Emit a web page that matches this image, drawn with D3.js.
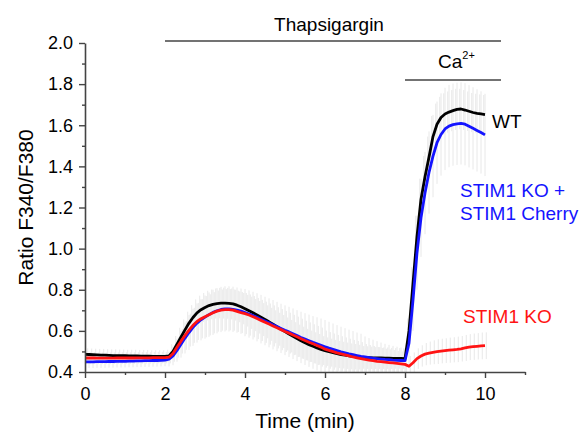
<!DOCTYPE html>
<html>
<head>
<meta charset="utf-8">
<script src="https://cdn.jsdelivr.net/npm/d3@7"></script>
<style>
  body { margin: 0; background: #fff; }
  text { font-family: "Liberation Sans", Arial, sans-serif; }
</style>
</head>
<body>
<svg width="586" height="438"></svg>
<script>
var svg = d3.select("svg"),
    width = +svg.attr("width"),
    height = +svg.attr("height");

/*================================ data ================================*/
// sampling grid, minutes
var times = d3.range(101).map(i => i / 10);

// WT (black)
var wtMean = [
  0.486,0.485,0.484,0.483,0.482,0.482,0.481,0.480,0.480,0.479,
  0.479,0.478,0.478,0.478,0.477,0.477,0.477,0.476,0.476,0.476,
  0.476,0.478,0.500,0.535,0.570,0.605,0.638,0.665,0.688,0.703,
  0.714,0.723,0.729,0.733,0.735,0.735,0.734,0.731,0.725,0.717,
  0.708,0.698,0.688,0.677,0.666,0.655,0.644,0.632,0.620,0.608,
  0.597,0.585,0.574,0.563,0.552,0.542,0.533,0.525,0.517,0.510,
  0.504,0.499,0.494,0.489,0.485,0.482,0.479,0.476,0.474,0.472,
  0.471,0.470,0.469,0.468,0.468,0.467,0.467,0.466,0.466,0.466,
  0.465,0.600,0.830,1.060,1.240,1.350,1.445,1.545,1.605,1.638,
  1.655,1.664,1.671,1.677,1.679,1.674,1.668,1.662,1.658,1.655,
  1.652];
var wtSd = [
  0.030,0.030,0.030,0.030,0.030,0.030,0.030,0.030,0.030,0.030,
  0.030,0.030,0.030,0.030,0.030,0.030,0.030,0.030,0.030,0.030,
  0.030,0.030,0.035,0.040,0.045,0.050,0.055,0.060,0.065,0.068,
  0.070,0.072,0.072,0.073,0.074,0.075,0.075,0.075,0.075,0.075,
  0.076,0.077,0.078,0.078,0.079,0.080,0.080,0.080,0.080,0.080,
  0.080,0.080,0.079,0.079,0.078,0.078,0.077,0.076,0.076,0.075,
  0.070,0.069,0.068,0.067,0.066,0.065,0.064,0.063,0.062,0.060,
  0.055,0.055,0.054,0.053,0.053,0.052,0.052,0.051,0.050,0.050,
  0.050,0.060,0.080,0.100,0.100,0.100,0.100,0.100,0.100,0.100,
  0.100,0.100,0.100,0.100,0.098,0.097,0.096,0.095,0.095,0.095,
  0.095];

// STIM1 KO + STIM1 Cherry (blue)
var rescueMean = [
  0.449,0.449,0.449,0.450,0.450,0.450,0.451,0.451,0.452,0.452,
  0.452,0.453,0.453,0.454,0.454,0.455,0.455,0.456,0.456,0.457,
  0.458,0.462,0.478,0.505,0.535,0.565,0.592,0.617,0.638,0.654,
  0.667,0.679,0.690,0.698,0.704,0.707,0.707,0.705,0.701,0.696,
  0.689,0.682,0.674,0.666,0.657,0.648,0.639,0.630,0.621,0.612,
  0.603,0.595,0.586,0.577,0.568,0.560,0.552,0.544,0.537,0.530,
  0.523,0.516,0.510,0.504,0.498,0.493,0.488,0.484,0.480,0.476,
  0.473,0.470,0.467,0.465,0.463,0.461,0.460,0.458,0.457,0.456,
  0.455,0.540,0.750,0.980,1.150,1.270,1.370,1.450,1.515,1.555,
  1.582,1.596,1.603,1.607,1.609,1.605,1.595,1.585,1.575,1.565,
  1.553];
var rescueSd = [
  0.030,0.030,0.030,0.030,0.030,0.030,0.030,0.030,0.030,0.030,
  0.030,0.030,0.030,0.030,0.030,0.030,0.030,0.030,0.030,0.030,
  0.030,0.035,0.045,0.055,0.065,0.075,0.085,0.090,0.095,0.100,
  0.105,0.108,0.110,0.110,0.110,0.110,0.110,0.110,0.110,0.110,
  0.115,0.115,0.116,0.117,0.118,0.118,0.119,0.120,0.120,0.120,
  0.121,0.122,0.123,0.124,0.125,0.126,0.127,0.128,0.129,0.130,
  0.130,0.128,0.126,0.124,0.122,0.120,0.118,0.115,0.112,0.110,
  0.100,0.095,0.090,0.085,0.080,0.076,0.072,0.069,0.066,0.063,
  0.060,0.100,0.150,0.180,0.190,0.200,0.200,0.200,0.200,0.200,
  0.200,0.200,0.200,0.200,0.200,0.200,0.200,0.200,0.200,0.200,
  0.200];

// STIM1 KO (red)
var koMean = [
  0.468,0.468,0.468,0.467,0.467,0.467,0.467,0.467,0.468,0.468,
  0.468,0.468,0.468,0.469,0.469,0.469,0.469,0.470,0.470,0.470,
  0.470,0.472,0.490,0.520,0.550,0.578,0.604,0.627,0.646,0.659,
  0.669,0.678,0.688,0.696,0.701,0.703,0.703,0.701,0.695,0.689,
  0.684,0.677,0.669,0.660,0.651,0.642,0.633,0.624,0.615,0.606,
  0.597,0.589,0.580,0.571,0.562,0.553,0.545,0.537,0.529,0.521,
  0.511,0.505,0.499,0.493,0.488,0.483,0.478,0.473,0.469,0.465,
  0.461,0.458,0.455,0.452,0.450,0.448,0.446,0.444,0.442,0.440,
  0.437,0.428,0.445,0.465,0.478,0.487,0.492,0.496,0.499,0.502,
  0.504,0.506,0.508,0.510,0.513,0.517,0.521,0.523,0.525,0.527,
  0.528];
var koSd = [
  0.028,0.028,0.028,0.028,0.028,0.028,0.028,0.028,0.028,0.028,
  0.028,0.028,0.028,0.028,0.028,0.028,0.028,0.028,0.028,0.028,
  0.028,0.030,0.040,0.050,0.060,0.070,0.080,0.085,0.090,0.095,
  0.100,0.100,0.100,0.100,0.100,0.100,0.100,0.100,0.100,0.100,
  0.100,0.100,0.100,0.100,0.100,0.100,0.100,0.100,0.100,0.100,
  0.100,0.099,0.098,0.098,0.097,0.096,0.096,0.095,0.095,0.095,
  0.090,0.089,0.088,0.087,0.086,0.085,0.084,0.083,0.082,0.080,
  0.075,0.073,0.071,0.069,0.067,0.065,0.064,0.063,0.061,0.060,
  0.055,0.050,0.050,0.050,0.052,0.054,0.056,0.058,0.060,0.060,
  0.060,0.061,0.061,0.062,0.062,0.063,0.063,0.064,0.064,0.065,
  0.065];

var seriesNames = ["WT", "STIM1 KO + STIM1 Cherry", "STIM1 KO"];
var seriesColors = ["#000000", "#1414ff", "#ff1414"];

// x ticks, y ticks
var xMajor = [0, 2, 4, 6, 8, 10], xMinor = [1, 3, 5, 7, 9, 11];
var yMajor = [0.4, 0.6, 0.8, 1.0, 1.2, 1.4, 1.6, 1.8, 2.0],
    yMinor = [0.5, 0.7, 0.9, 1.1, 1.3, 1.5, 1.7, 1.9];

// treatment bars: [label, start, end] in minutes
var thapsigargin = ["Thapsigargin", 2, 10.4];
var calcium = ["Ca", 8, 10.4];

/*====================================== scales =========================================*/
var x = d3.scaleLinear().domain([0, 11]).range([85, 525]),
    y = d3.scaleLinear().domain([0.4, 2.0]).range([372, 43]);

var series = [
    { mean: wtMean, sd: wtSd },
    { mean: rescueMean, sd: rescueSd },
    { mean: koMean, sd: koSd }
];

svg.append("clipPath").attr("id", "plotclip")
  .append("rect").attr("x", 85).attr("y", 30).attr("width", 440).attr("height", 342);

var plot = svg.append("g").attr("clip-path", "url(#plotclip)");

// error bars (very light grey vertical strokes), staggered a little per series
series.forEach(function(s, k) {
    plot.append("g")
      .selectAll("line")
      .data(times)
      .enter().append("line")
        .attr("x1", d => x(d) + (k - 1) * 1.3).attr("x2", d => x(d) + (k - 1) * 1.3)
        .attr("y1", (d, i) => y(s.mean[i] - s.sd[i]))
        .attr("y2", (d, i) => y(s.mean[i] + s.sd[i]))
        .attr("stroke", "#e2e2e2")
        .attr("stroke-width", 0.8);
});

// mean traces
var line = d3.line()
    .x((d, i) => x(times[i]))
    .y(d => y(d));

series.forEach(function(s, k) {
    plot.append("path")
      .datum(s.mean)
      .attr("d", line)
      .attr("fill", "none")
      .attr("stroke", seriesColors[k])
      .attr("stroke-width", 2.8)
      .attr("stroke-linejoin", "round");
});

/*====================================== axes ===========================================*/
var axisColor = "#444";

svg.append("g").attr("transform", "translate(0,372)")
    .call(d3.axisBottom(x).tickValues(xMajor).tickFormat(d3.format("d"))
        .tickSize(6).tickSizeOuter(0).tickPadding(9));
svg.append("g").attr("transform", "translate(0,372)")
    .call(d3.axisBottom(x).tickValues(xMinor).tickFormat("").tickSize(3).tickSizeOuter(0))
    .select(".domain").remove();

svg.append("g").attr("transform", "translate(85,0)")
    .call(d3.axisLeft(y).tickValues(yMajor).tickFormat(d3.format(".1f"))
        .tickSize(6).tickSizeOuter(0).tickPadding(6));
svg.append("g").attr("transform", "translate(85,0)")
    .call(d3.axisLeft(y).tickValues(yMinor).tickFormat("").tickSize(3).tickSizeOuter(0))
    .select(".domain").remove();

svg.selectAll(".domain").attr("stroke", axisColor).attr("stroke-width", 1.6);
svg.selectAll(".tick line").attr("stroke", axisColor).attr("stroke-width", 1.4);
svg.selectAll(".tick text").attr("fill", "#000").style("font-size", "18px")
    .style("font-family", '"Liberation Sans", Arial, sans-serif');

svg.append("text")
    .attr("x", (x(0) + x(11)) / 2).attr("y", 428)
    .attr("text-anchor", "middle")
    .style("font-size", "21px")
    .text("Time (min)");

svg.append("text")
    .attr("transform", "translate(33," + ((y(0.4) + y(2.0)) / 2) + ") rotate(-90)")
    .attr("text-anchor", "middle")
    .style("font-size", "21px")
    .text("Ratio F340/F380");

/*=================================== annotations =======================================*/
svg.append("line")
    .attr("x1", x(thapsigargin[1])).attr("x2", x(thapsigargin[2]))
    .attr("y1", 41).attr("y2", 41)
    .attr("stroke", axisColor).attr("stroke-width", 1.4);
svg.append("text")
    .attr("x", (x(thapsigargin[1]) + x(thapsigargin[2])) / 2 - 4).attr("y", 31)
    .attr("text-anchor", "middle")
    .style("font-size", "19px")
    .text(thapsigargin[0]);

svg.append("line")
    .attr("x1", x(calcium[1])).attr("x2", x(calcium[2]))
    .attr("y1", 80).attr("y2", 80)
    .attr("stroke", axisColor).attr("stroke-width", 1.4);
var ca = svg.append("text")
    .attr("x", 438).attr("y", 68)
    .style("font-size", "19px");
ca.append("tspan").text(calcium[0]);
ca.append("tspan").attr("dy", -9).style("font-size", "11px").text("2+");

// series labels
svg.append("text").attr("x", 492).attr("y", 128)
    .style("font-size", "19px").attr("fill", seriesColors[0]).text(seriesNames[0]);
svg.append("text").attr("x", 460).attr("y", 197)
    .style("font-size", "19px").attr("fill", seriesColors[1]).text("STIM1 KO +");
svg.append("text").attr("x", 460).attr("y", 220)
    .style("font-size", "19px").attr("fill", seriesColors[1]).text("STIM1 Cherry");
svg.append("text").attr("x", 463).attr("y", 323)
    .style("font-size", "19px").attr("fill", seriesColors[2]).text(seriesNames[2]);
</script>
</body>
</html>
